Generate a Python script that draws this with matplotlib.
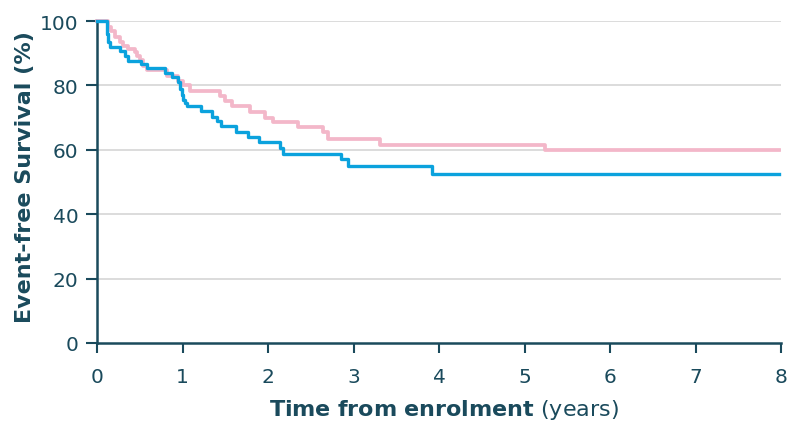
import matplotlib
matplotlib.use("Agg")
import matplotlib.pyplot as plt

# Kaplan-Meier step data: event times (years) and survival (%) after each step
blue_t = [0, 0.12, 0.13, 0.15, 0.27, 0.33, 0.36, 0.52, 0.58, 0.79, 0.88, 0.95,
          0.97, 0.99, 1.01, 1.03, 1.05, 1.22, 1.34, 1.40, 1.45, 1.63, 1.77, 1.90,
          2.14, 2.18, 2.85, 2.94, 3.92, 7.98]
blue_s = [100, 96, 93.5, 92, 90.8, 89.2, 87.7, 86.6, 85.3, 84, 82.5, 81,
          79, 77, 75.5, 74.5, 73.5, 72, 70.2, 68.8, 67.3, 65.5, 64, 62.5,
          60.5, 58.7, 57, 55, 52.6, 52.6]

pink_t = [0, 0.13, 0.16, 0.21, 0.27, 0.30, 0.36, 0.44, 0.47, 0.50, 0.54, 0.58,
          0.82, 0.95, 1.01, 1.09, 1.44, 1.50, 1.58, 1.79, 1.96, 2.06, 2.35, 2.64,
          2.70, 3.31, 5.24, 7.98]
pink_s = [100, 98, 97, 95, 93.5, 92.3, 91.3, 90.3, 89, 88, 86, 84.8,
          83, 81.5, 80, 78.4, 76.8, 75.3, 73.7, 71.7, 70, 68.5, 67, 65.5,
          63.4, 61.5, 60, 60]

x_ticks = [0, 1, 2, 3, 4, 5, 6, 7, 8]
y_ticks = [0, 20, 40, 60, 80, 100]

INK = "#1a4a5c"
BLUE = "#0ba2dd"
PINK = "#f3b7c9"

plt.rcParams.update({
    "font.family": "DejaVu Sans",
    "mathtext.fontset": "dejavusans",
    "text.color": INK,
    "axes.labelcolor": INK,
    "xtick.color": INK,
    "ytick.color": INK,
})

fig = plt.figure(figsize=(7.92, 4.27), dpi=100)
ax = fig.add_axes([97 / 792, 1 - 344 / 427, 684 / 792, 322 / 427])

for y in y_ticks[1:]:
    ax.axhline(y, color="#d9d9d9", lw=1.3, zorder=0)

ax.step(pink_t, pink_s, where="post", color=PINK, lw=2.7, clip_on=False, zorder=2)
ax.step(blue_t, blue_s, where="post", color=BLUE, lw=2.4, clip_on=False, zorder=3)

ax.set_xlim(0, 8)
ax.set_ylim(0, 100)
ax.set_xticks(x_ticks)
ax.set_yticks(y_ticks)

for side in ("top", "right"):
    ax.spines[side].set_visible(False)
for side in ("left", "bottom"):
    ax.spines[side].set_color(INK)
    ax.spines[side].set_linewidth(1.8)

ax.tick_params(axis="x", length=7, width=1.5, pad=10, labelsize=14.5)
ax.tick_params(axis="y", length=8, width=1.5, pad=5.5, labelsize=14.5)

ax.set_ylabel("Event-free Survival (%)", fontsize=16, fontweight="bold")
ax.yaxis.set_label_coords(-0.091, 0.519)
ax.set_xlabel(r"$\mathbf{Time\ from\ enrolment}$ (years)", fontsize=16, va="top")
ax.xaxis.set_label_coords(0.5066, -0.168)

fig.savefig("out.png", dpi=100)
